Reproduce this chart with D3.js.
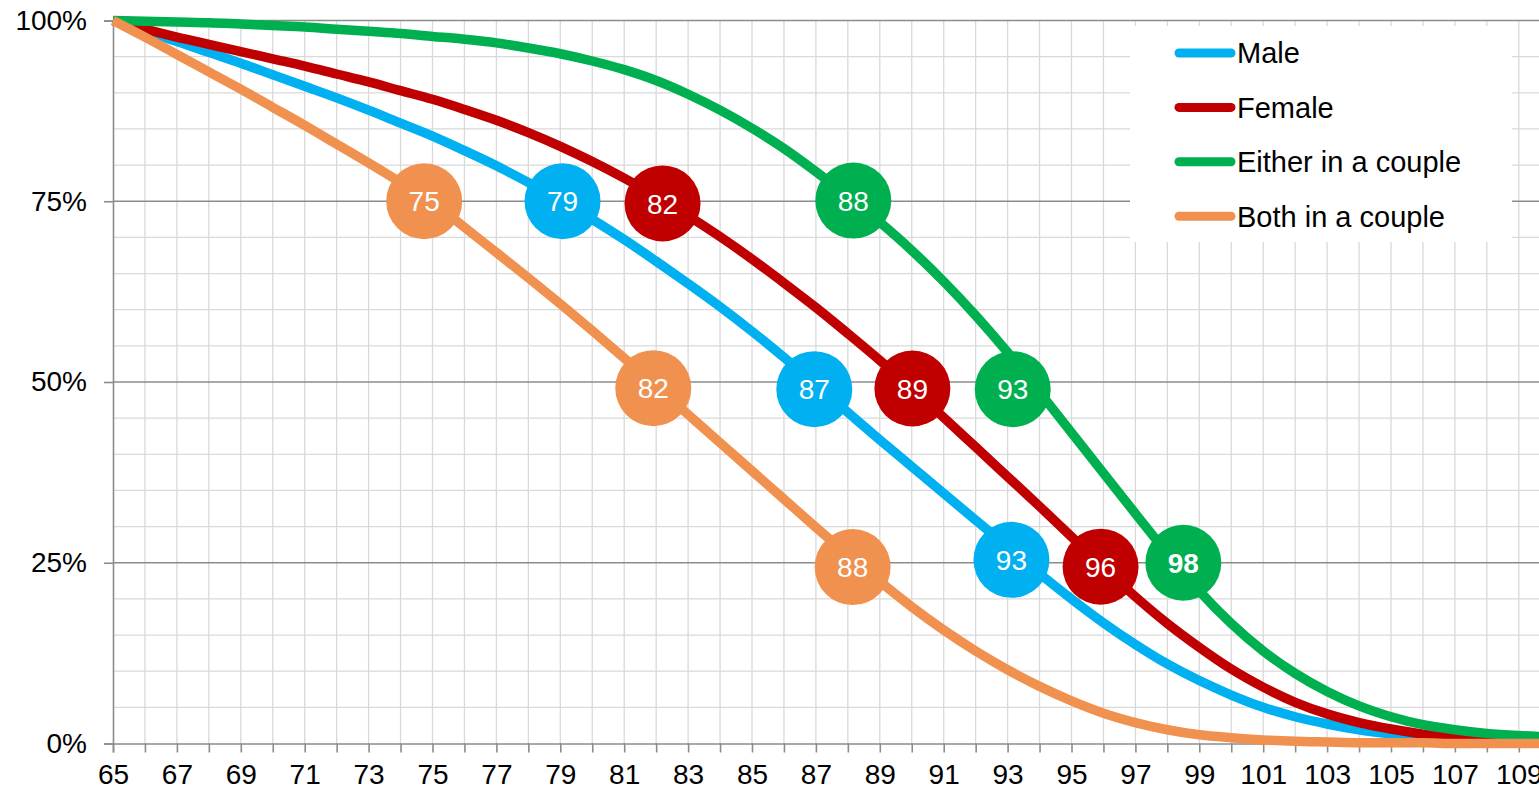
<!DOCTYPE html>
<html>
<head>
<meta charset="utf-8">
<script src="https://cdn.jsdelivr.net/npm/d3@7"></script>
<style>
  html, body { margin: 0; padding: 0; background: #ffffff; overflow: hidden; }
  svg { display: block; font-family: "Liberation Sans", Arial, sans-serif; }
</style>
</head>
<body>
<svg id="chart" width="1539" height="789"></svg>
<script>
// Age at each point of the survival curves
const ages = [65, 66, 67, 68, 69, 70, 71, 72, 73, 74,
              75, 76, 77, 78, 79, 80, 81, 82, 83, 84,
              85, 86, 87, 88, 89, 90, 91, 92, 93, 94,
              95, 96, 97, 98, 99, 100, 101, 102, 103, 104,
              105, 106, 107, 108, 109, 110];

// Probability of still being alive at each age, from 65
const male = [1.000, 0.985, 0.971, 0.956, 0.941, 0.925, 0.909, 0.893, 0.876, 0.858,
              0.840, 0.820, 0.799, 0.776, 0.752, 0.725, 0.697, 0.667, 0.636, 0.604,
              0.570, 0.534, 0.496, 0.458, 0.420, 0.383, 0.346, 0.309, 0.272, 0.235,
              0.200, 0.167, 0.137, 0.110, 0.087, 0.067, 0.050, 0.037, 0.027, 0.019,
              0.013, 0.008, 0.005, 0.003, 0.002, 0.001];
const female = [1.000, 0.988, 0.977, 0.967, 0.957, 0.947, 0.937, 0.926, 0.915, 0.903,
                0.891, 0.877, 0.862, 0.845, 0.826, 0.805, 0.782, 0.757, 0.730, 0.701,
                0.670, 0.637, 0.603, 0.567, 0.530, 0.491, 0.451, 0.410, 0.369, 0.328,
                0.286, 0.243, 0.203, 0.166, 0.133, 0.103, 0.078, 0.057, 0.041, 0.029,
                0.020, 0.013, 0.008, 0.005, 0.003, 0.002];
const eitherInCouple = [1.000, 0.999, 0.998, 0.997, 0.995, 0.993, 0.991, 0.988, 0.985, 0.982,
                        0.978, 0.974, 0.969, 0.962, 0.954, 0.944, 0.932, 0.917, 0.898, 0.876,
                        0.851, 0.823, 0.791, 0.757, 0.721, 0.682, 0.639, 0.592, 0.541, 0.486,
                        0.430, 0.374, 0.318, 0.263, 0.211, 0.166, 0.128, 0.097, 0.072, 0.052,
                        0.037, 0.026, 0.019, 0.014, 0.011, 0.009];
const bothInCouple = [1.000, 0.977, 0.953, 0.929, 0.905, 0.880, 0.855, 0.829, 0.803, 0.776,
                      0.748, 0.714, 0.679, 0.644, 0.608, 0.571, 0.533, 0.494, 0.455, 0.416,
                      0.377, 0.338, 0.299, 0.261, 0.224, 0.189, 0.157, 0.128, 0.102, 0.079,
                      0.059, 0.042, 0.029, 0.019, 0.012, 0.008, 0.005, 0.003, 0.002, 0.001,
                      0.001, 0.001, 0.000, 0.000, 0.000, 0.000];

const seriesNames = ["Male", "Female", "Either in a couple", "Both in a couple"];
const seriesValues = [male, female, eitherInCouple, bothInCouple];
const seriesColors = ["#00b0f0", "#c00000", "#00b050", "#f0914f"];

// Quartile markers: series index, age position, survival level, age shown
const markerSeries = [3, 0, 1, 2, 3, 0, 1, 2, 3, 0, 1, 2];
const markerAge = [74.74, 79.07, 82.2, 88.17, 81.91, 86.95, 90.02, 93.16, 88.15, 93.12, 95.91, 98.5];
const markerValue = [0.75, 0.75, 0.747, 0.751, 0.4915, 0.49, 0.491, 0.49, 0.244, 0.254, 0.2445, 0.25];
const markerLabel = ["75", "79", "82", "88", "82", "87", "89", "93", "88", "93", "96", "98"];
const markerBold = [false, false, false, false, false, false, false, false, false, false, false, true];

// Axis ticks
const xTickLabels = [65, 67, 69, 71, 73, 75, 77, 79, 81, 83, 85, 87, 89, 91, 93, 95, 97, 99,
                     101, 103, 105, 107, 109];
const yTickValues = [0, 0.25, 0.5, 0.75, 1];

const svg = d3.select("#chart");
const plotLeft = 113, plotRight = 1550.75, plotTop = 20.5, plotBottom = 743.5;

const x = d3.scaleLinear().domain([65, 110]).range([plotLeft, plotRight]);
const y = d3.scaleLinear().domain([0, 1]).range([plotBottom, plotTop]);

// Minor grid: every year, every 5%
const grid = svg.append("g");
grid.selectAll("line.vminor")
  .data(ages.filter(a => a > 65))
  .join("line")
  .attr("x1", d => x(d)).attr("x2", d => x(d))
  .attr("y1", y(1)).attr("y2", y(0))
  .attr("stroke", "#d9d9d9").attr("stroke-width", 1.3);
grid.selectAll("line.hminor")
  .data(d3.range(1, 20).filter(i => i % 5 !== 0).map(i => i * 0.05))
  .join("line")
  .attr("x1", plotLeft).attr("x2", plotRight)
  .attr("y1", d => y(d)).attr("y2", d => y(d))
  .attr("stroke", "#d9d9d9").attr("stroke-width", 1.3);
// Major grid every 25%
grid.selectAll("line.hmajor")
  .data(yTickValues.filter(d => d > 0))
  .join("line")
  .attr("x1", plotLeft).attr("x2", plotRight)
  .attr("y1", d => y(d)).attr("y2", d => y(d))
  .attr("stroke", "#8c8c8c").attr("stroke-width", 1.6);

// Axes
const axisFont = 28;
const xAxis = svg.append("g")
  .attr("transform", `translate(0,${plotBottom})`)
  .call(d3.axisBottom(x)
    .tickValues(ages)
    .tickSize(9)
    .tickPadding(12)
    .tickFormat(d => xTickLabels.includes(d) ? String(d) : ""));
const yAxis = svg.append("g")
  .attr("transform", `translate(${plotLeft},0)`)
  .call(d3.axisLeft(y)
    .tickValues(yTickValues)
    .tickSize(9)
    .tickPadding(17)
    .tickFormat(d3.format(".0%")));
[xAxis, yAxis].forEach(g => {
  g.select(".domain").attr("stroke", "#8c8c8c").attr("stroke-width", 1.6);
  g.selectAll(".tick line").attr("stroke", "#8c8c8c").attr("stroke-width", 1.6);
  g.selectAll(".tick text")
    .attr("fill", "#000")
    .style("font-family", "'Liberation Sans', Arial, sans-serif")
    .style("font-size", axisFont + "px");
});

// Survival curves
const line = d3.line()
  .x((d, i) => x(ages[i]))
  .y(d => y(d))
  .curve(d3.curveMonotoneX);
svg.append("g")
  .selectAll("path")
  .data(seriesValues)
  .join("path")
  .attr("d", d => line(d))
  .attr("fill", "none")
  .attr("stroke", (d, i) => seriesColors[i])
  .attr("stroke-width", 9.5)
  .attr("stroke-linejoin", "round");

// Quartile age markers
const markers = svg.append("g")
  .selectAll("g")
  .data(markerAge.map((a, i) => i))
  .join("g")
  .attr("transform", i => `translate(${x(markerAge[i])},${y(markerValue[i])})`);
markers.append("circle")
  .attr("r", 38)
  .attr("fill", i => seriesColors[markerSeries[i]]);
markers.append("text")
  .attr("text-anchor", "middle")
  .attr("dy", "0.36em")
  .attr("fill", "#ffffff")
  .style("font-size", "28px")
  .style("font-weight", i => markerBold[i] ? "bold" : "normal")
  .text(i => markerLabel[i]);

// Legend
const legend = svg.append("g");
legend.append("rect")
  .attr("x", 1130).attr("y", 26)
  .attr("width", 382).attr("height", 216)
  .attr("fill", "#ffffff");
const items = legend.selectAll("g.item")
  .data(seriesNames)
  .join("g")
  .attr("transform", (d, i) => `translate(0,${53 + i * 54.4})`);
items.append("line")
  .attr("x1", 1179).attr("x2", 1231)
  .attr("stroke", (d, i) => seriesColors[i])
  .attr("stroke-width", 9)
  .attr("stroke-linecap", "round");
items.append("text")
  .attr("x", 1237)
  .attr("dy", "0.36em")
  .attr("fill", "#000")
  .style("font-size", "29px")
  .text(d => d);
</script>
</body>
</html>
